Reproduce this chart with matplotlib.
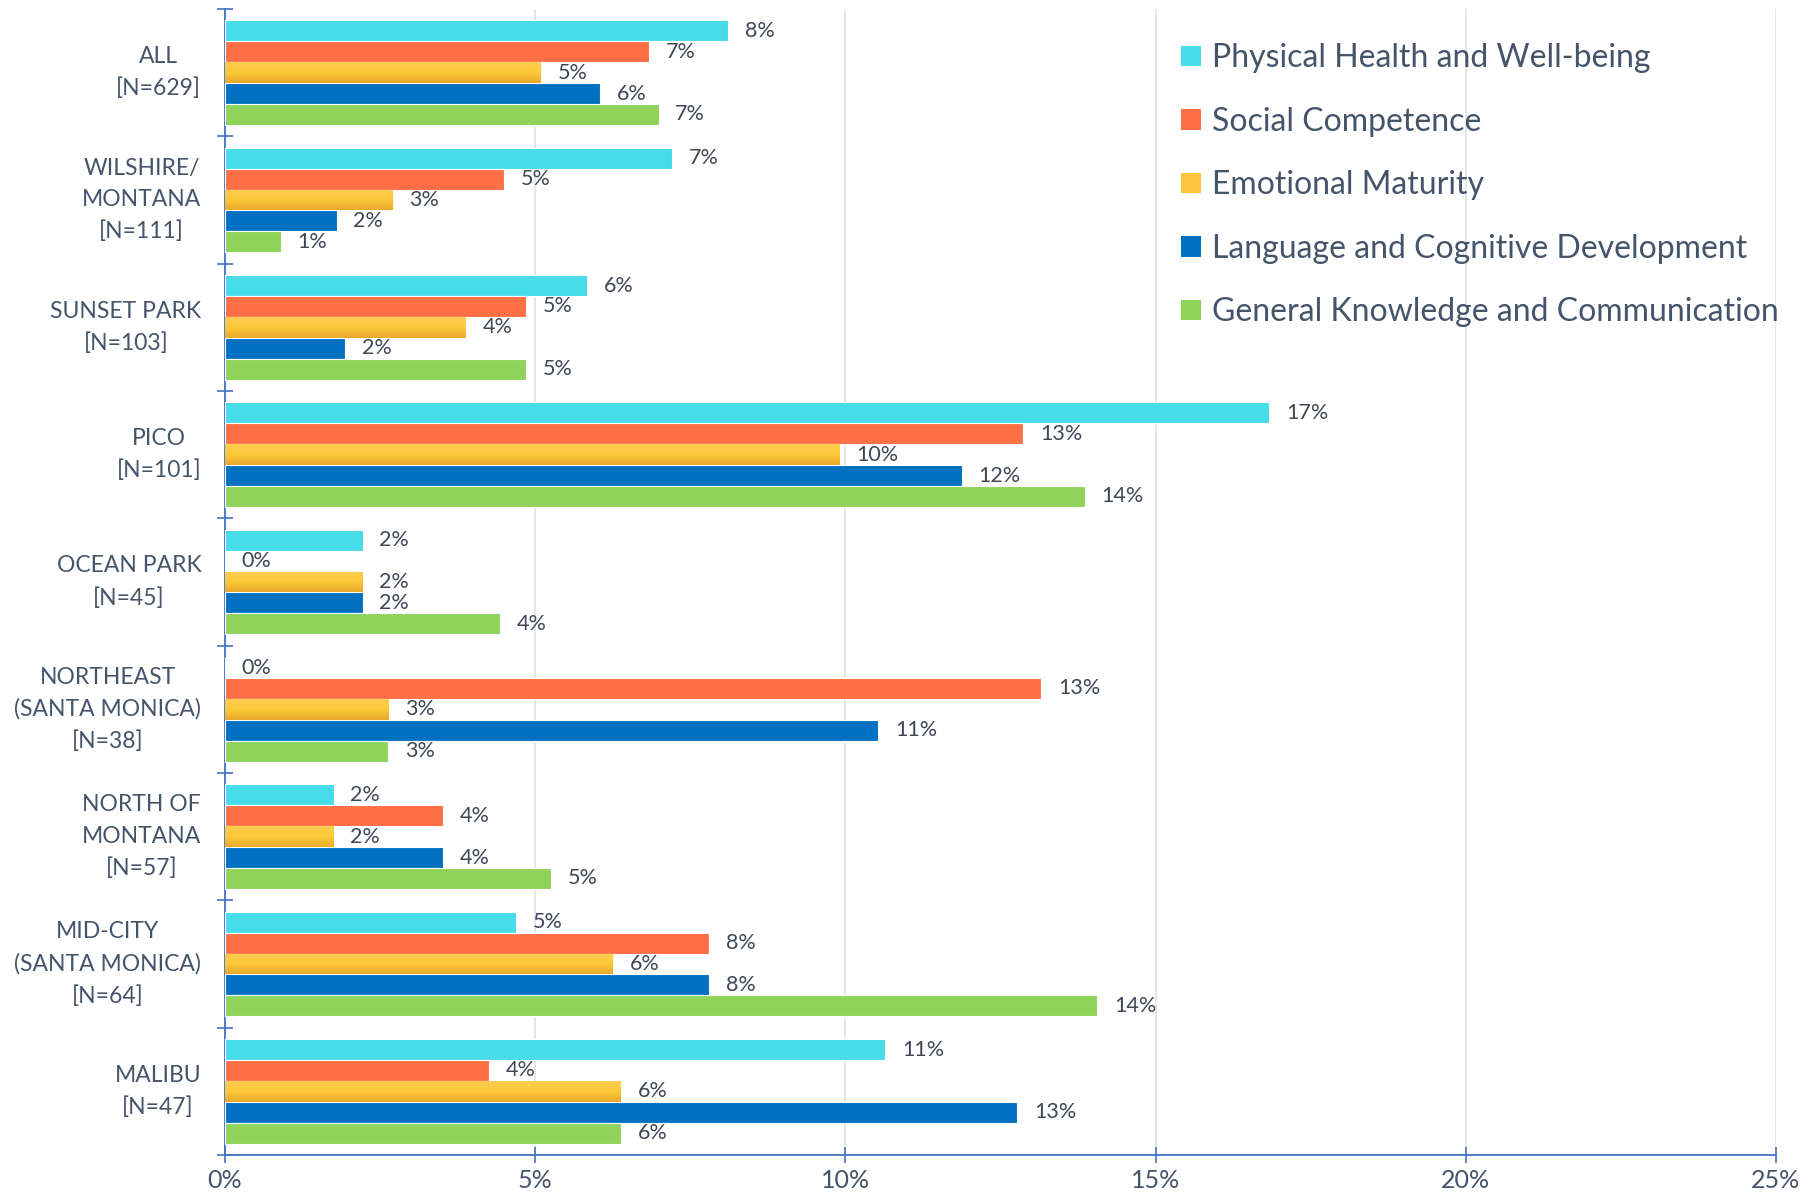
import numpy as np
import matplotlib.pyplot as plt
from matplotlib.patches import Patch
from matplotlib.colors import LinearSegmentedColormap

plt.rcParams['font.family'] = ['Lato', 'DejaVu Sans']

# ---- data: share of children vulnerable in each domain, by neighborhood ----
areas = ['ALL\n[N=629]', 'WILSHIRE/\nMONTANA\n[N=111]', 'SUNSET PARK\n[N=103]',
         'PICO\n[N=101]', 'OCEAN PARK\n[N=45]', 'NORTHEAST\n(SANTA MONICA)\n[N=38]',
         'NORTH OF\nMONTANA\n[N=57]', 'MID-CITY\n(SANTA MONICA)\n[N=64]', 'MALIBU\n[N=47]']

domains = ['Physical Health and Well-being', 'Social Competence', 'Emotional Maturity',
           'Language and Cognitive Development', 'General Knowledge and Communication']

physical = [8.11, 7.21, 5.83, 16.83, 2.22, 0.00, 1.75, 4.69, 10.64]
social = [6.84, 4.50, 4.85, 12.87, 0.00, 13.16, 3.51, 7.81, 4.26]
emotional = [5.09, 2.70, 3.88, 9.90, 2.22, 2.63, 1.75, 6.25, 6.38]
language = [6.04, 1.80, 1.94, 11.88, 2.22, 10.53, 3.51, 7.81, 12.77]
knowledge = [6.99, 0.90, 4.85, 13.86, 4.44, 2.63, 5.26, 14.06, 6.38]

series = [physical, social, emotional, language, knowledge]
colors = ['#46DCEA', '#FF6F45', '#FDC53E', '#0070C0', '#8FD35A']

text_col = '#44546A'
axis_col = '#4472C4'

fig = plt.figure(figsize=(18.2, 12.02), dpi=100)
ax = fig.add_axes([0.1236, 0.0391, 0.8522, 0.9534])

n = len(areas)
h = 0.164
y = np.arange(n)
yellow_map = LinearSegmentedColormap.from_list('yel', ['#FFCD4F', '#FCC93A', '#E9A92A'])

for j, (vals, col) in enumerate(zip(series, colors)):
    pos = y + (j - 2) * h
    bars = ax.barh(pos, vals, height=h, color=col, edgecolor='white',
                   linewidth=0.8, zorder=3)
    if j == 2:
        # emotional maturity bars get a soft top-to-bottom shading
        grad = np.linspace(0, 1, 64).reshape(-1, 1)
        for b, p, v in zip(bars, pos, vals):
            if v <= 0:
                continue
            im = ax.imshow(grad, cmap=yellow_map, aspect='auto',
                           extent=[0, v, p + h / 2, p - h / 2], zorder=3.5)
            im.set_clip_path(b)
    for p, v in zip(pos, vals):
        ax.text(v + 0.27, p, f'{int(v + 0.5)}%', va='center', ha='left',
                fontsize=15.5, color='#3E4755', zorder=4)

ax.set_xlim(0, 25)
ax.set_ylim(n - 0.5, -0.5)

ax.set_xticks(np.arange(0, 26, 5))
ax.set_xticklabels([f'{t}%' for t in range(0, 26, 5)], fontsize=18, color=text_col)
ax.tick_params(axis='x', direction='inout', length=12, width=1.2, color=axis_col, pad=4)
ax.xaxis.grid(True, color='#DCDFE4', linewidth=1.1, zorder=0)

ax.set_yticks(np.arange(-0.5, n, 1))
ax.set_yticklabels([])
ax.set_yticks(y, minor=True)
ax.set_yticklabels(areas, minor=True, fontsize=16.5, color=text_col,
                   multialignment='center', linespacing=1.6)
for lbl in ax.get_yticklabels(minor=True):
    lbl.set_va('center')
ax.tick_params(axis='y', which='major', direction='inout', length=12, width=1.2, color=axis_col)
ax.tick_params(axis='y', which='minor', length=0, pad=17)

for side in ['top', 'right']:
    ax.spines[side].set_visible(False)
for side in ['left', 'bottom']:
    ax.spines[side].set_color(axis_col)
    ax.spines[side].set_linewidth(1.3)

handles = [Patch(facecolor=c, edgecolor='none') for c in colors]
leg = fig.legend(handles, domains, loc='upper left', bbox_to_anchor=(0.633, 0.988),
                 frameon=False, fontsize=23, handlelength=0.62, handleheight=0.62,
                 handletextpad=0.35, labelspacing=1.05)
for t in leg.get_texts():
    t.set_color(text_col)

fig.savefig('out.png', dpi=100, facecolor='white')
